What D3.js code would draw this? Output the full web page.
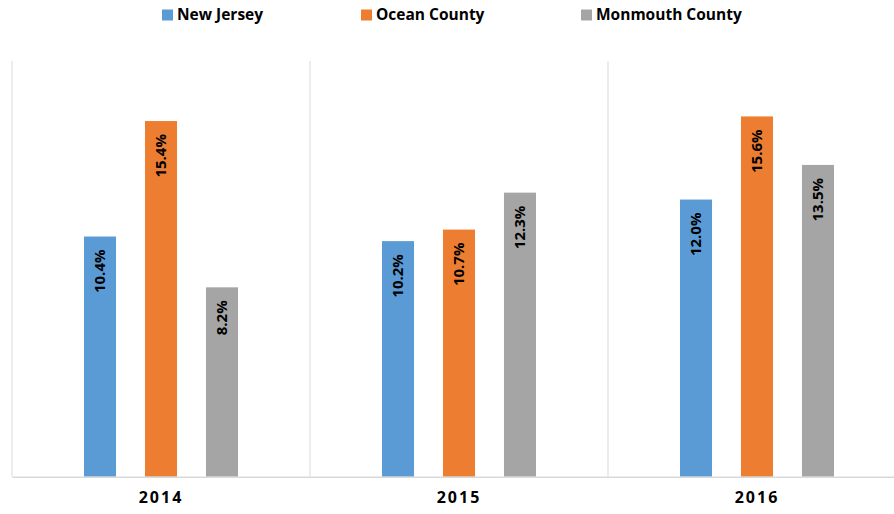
<!DOCTYPE html>
<html><head><meta charset="utf-8">
<script src="https://cdn.jsdelivr.net/npm/d3@7"></script>
<style>body{margin:0;background:#fff}svg{display:block}</style>
</head><body>
<svg id="c" width="894" height="514"></svg>
<script>
const categories = ["2014", "2015", "2016"];
const seriesNames = ["New Jersey", "Ocean County", "Monmouth County"];
const newJersey = [10.4, 10.2, 12.0];
const oceanCounty = [15.4, 10.7, 15.6];
const monmouthCounty = [8.2, 12.3, 13.5];
const colors = ["#5b9bd5", "#ed7d31", "#a5a5a5"];
const seriesValues = [newJersey, oceanCounty, monmouthCounty];

const svg = d3.select("#c");
const font = "'Open Sans', sans-serif";
const x0 = d3.scaleBand().domain(categories).range([12, 906]).padding(0);
const x1 = d3.scaleBand().domain(seriesNames).range([-77, 77]).paddingInner(0.475).paddingOuter(0);
const y = d3.scaleLinear().domain([0, 18]).range([476.7, 61]);

// vertical gridlines at category boundaries
const bounds = categories.map(c => x0(c)).concat([x0.range()[1]]);
svg.append("g").selectAll("line").data(bounds).join("line")
  .attr("x1", d => d).attr("x2", d => d)
  .attr("y1", y(18)).attr("y2", y(0))
  .attr("stroke", "#d9d9d9").attr("stroke-width", 1);

// bars
const g = svg.append("g");
categories.forEach((c, i) => {
  const cx = x0(c) + x0.bandwidth() / 2;
  seriesNames.forEach((s, j) => {
    const v = seriesValues[j][i];
    const bx = cx + x1(s);
    g.append("rect").attr("x", bx).attr("y", y(v))
      .attr("width", x1.bandwidth()).attr("height", y(0) - y(v))
      .attr("fill", colors[j]);
    const lx = bx + x1.bandwidth() / 2;
    const ly = y(v) + 13;
    g.append("text")
      .attr("transform", `translate(${lx},${ly}) rotate(-90)`)
      .attr("text-anchor", "end").attr("dy", "0.36em")
      .attr("font-family", font).attr("font-weight", "bold")
      .attr("font-size", 15).attr("fill", "#000")
      .text(v.toFixed(1) + "%");
  });
});

// baseline / x axis
const xAxis = d3.axisBottom(x0).tickSize(0).tickPadding(15);
const ax = svg.append("g").attr("transform", `translate(0,${y(0)})`).call(xAxis);
ax.select(".domain").attr("stroke", "#d9d9d9").attr("stroke-width", 1.5);
ax.selectAll("text").attr("font-family", font).attr("font-weight", "bold")
  .attr("font-size", 16).attr("letter-spacing", "2px").attr("fill", "#000");

// legend
const legendX = [162, 361, 581];
const lg = svg.append("g");
seriesNames.forEach((s, j) => {
  lg.append("rect").attr("x", legendX[j]).attr("y", 9.5)
    .attr("width", 11).attr("height", 11).attr("fill", colors[j]);
  lg.append("text").attr("x", legendX[j] + 15).attr("y", 20)
    .attr("font-family", font).attr("font-weight", "bold")
    .attr("font-size", 15.5).attr("fill", "#000").text(s);
});
</script>
</body></html>
